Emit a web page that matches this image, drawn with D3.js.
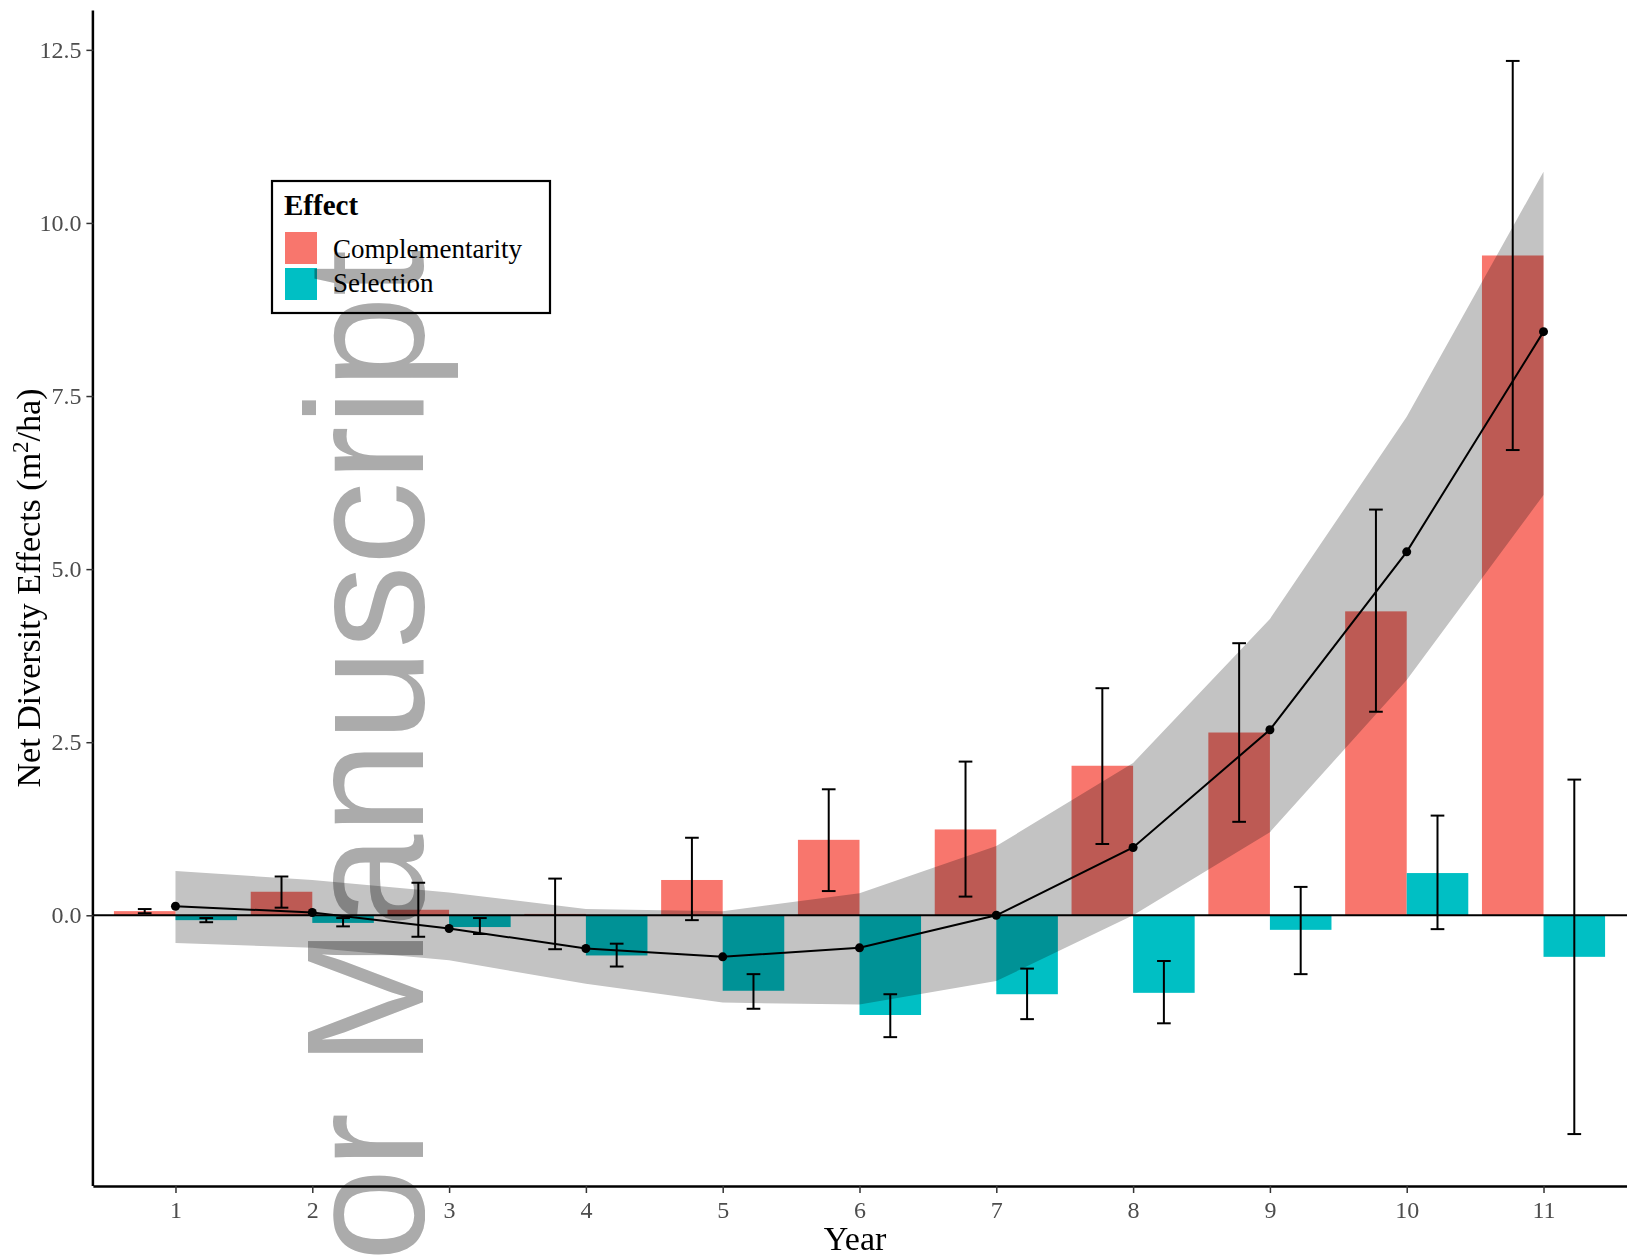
<!DOCTYPE html>
<html>
<head>
<meta charset="utf-8">
<script src="https://cdn.jsdelivr.net/npm/d3@7"></script>
<style>
    body { margin: 0; background: #fff; }
    svg { display: block; }
</style>
</head>
<body>
<script>
const years = [1, 2, 3, 4, 5, 6, 7, 8, 9, 10, 11];
const yTicks = [0, 2.5, 5, 7.5, 10, 12.5];

// Complementarity effect (mean, upper, lower)
const comp = [0.06, 0.34, 0.08, 0.02, 0.51, 1.09, 1.24, 2.16, 2.64, 4.39, 9.53];
const compHi = [0.09, 0.56, 0.47, 0.53, 1.12, 1.82, 2.22, 3.28, 3.93, 5.86, 12.34];
const compLo = [0.03, 0.11, -0.31, -0.49, -0.07, 0.35, 0.27, 1.03, 1.35, 2.94, 6.72];

// Selection effect (mean, upper, lower)
const sel = [-0.07, -0.11, -0.17, -0.58, -1.09, -1.44, -1.14, -1.12, -0.21, 0.61, -0.60];
const selHi = [-0.04, -0.04, -0.04, -0.41, -0.85, -1.14, -0.77, -0.66, 0.41, 1.44, 1.96];
const selLo = [-0.10, -0.16, -0.27, -0.74, -1.35, -1.76, -1.50, -1.56, -0.85, -0.20, -3.16];

// Net effect and its fitted band
const net = [0.13, 0.04, -0.19, -0.48, -0.60, -0.47, 0.0, 0.98, 2.68, 5.25, 8.43];
const bandHi = [0.64, 0.51, 0.33, 0.09, 0.06, 0.32, 1.0, 2.2, 4.28, 7.2, 10.74];
const bandLo = [-0.40, -0.47, -0.65, -0.99, -1.26, -1.29, -0.95, 0.0, 1.2, 3.4, 6.07];

const effects = ["Complementarity", "Selection"];
const colors = ["#F8766D", "#00BFC4"];

const width = 1627, height = 1259;
const plotLeft = 93.4, plotRight = 1625.6, plotTop = 10.4, plotBottom = 1186;
const barW = 0.45;

const x = d3.scaleLinear().domain([0.4, 11.6]).range([plotLeft, plotRight]);
const y = d3.scaleLinear().domain([-3.91, 13.07]).range([plotBottom, plotTop]);

const svg = d3.select("body").append("svg")
    .attr("width", width)
    .attr("height", height);

const rows = years.map((yr, i) => ({
    year: yr, comp: comp[i], compHi: compHi[i], compLo: compLo[i],
    sel: sel[i], selHi: selHi[i], selLo: selLo[i],
    net: net[i], hi: bandHi[i], lo: bandLo[i]
}));

// bars
svg.append("g").selectAll("rect")
    .data(rows)
    .join("rect")
    .attr("x", d => x(d.year - barW))
    .attr("width", d => x(d.year) - x(d.year - barW))
    .attr("y", d => y(Math.max(0, d.comp)))
    .attr("height", d => Math.abs(y(d.comp) - y(0)))
    .attr("fill", colors[0]);

svg.append("g").selectAll("rect")
    .data(rows)
    .join("rect")
    .attr("x", d => x(d.year))
    .attr("width", d => x(d.year + barW) - x(d.year))
    .attr("y", d => y(Math.max(0, d.sel)))
    .attr("height", d => Math.abs(y(d.sel) - y(0)))
    .attr("fill", colors[1]);

// band
svg.append("path")
    .datum(rows)
    .attr("d", d3.area().x(d => x(d.year)).y0(d => y(d.lo)).y1(d => y(d.hi)))
    .attr("fill", "#c3c3c3")
    .style("mix-blend-mode", "multiply");

// zero line
svg.append("line")
    .attr("x1", plotLeft).attr("x2", width)
    .attr("y1", y(0)).attr("y2", y(0))
    .attr("stroke", "#000").attr("stroke-width", 2);

// error bars
const errs = rows.flatMap(d => [
    {cx: d.year - barW / 2, hi: d.compHi, lo: d.compLo},
    {cx: d.year + barW / 2, hi: d.selHi, lo: d.selLo}
]);
const capW = 0.05;
const err = svg.append("g").attr("stroke", "#000").attr("stroke-width", 2);
err.append("g").selectAll("line").data(errs).join("line")
    .attr("x1", d => x(d.cx)).attr("x2", d => x(d.cx))
    .attr("y1", d => y(d.hi)).attr("y2", d => y(d.lo));
err.append("g").selectAll("line").data(errs).join("line")
    .attr("x1", d => x(d.cx - capW)).attr("x2", d => x(d.cx + capW))
    .attr("y1", d => y(d.hi)).attr("y2", d => y(d.hi));
err.append("g").selectAll("line").data(errs).join("line")
    .attr("x1", d => x(d.cx - capW)).attr("x2", d => x(d.cx + capW))
    .attr("y1", d => y(d.lo)).attr("y2", d => y(d.lo));

// net effect line
svg.append("path")
    .datum(rows)
    .attr("d", d3.line().x(d => x(d.year)).y(d => y(d.net)))
    .attr("fill", "none")
    .attr("stroke", "#000")
    .attr("stroke-width", 2);

svg.append("g").selectAll("circle")
    .data(rows)
    .join("circle")
    .attr("cx", d => x(d.year))
    .attr("cy", d => y(d.net))
    .attr("r", 4.5)
    .attr("fill", "#000");

// axes
const xAxis = svg.append("g")
    .attr("transform", `translate(0,${plotBottom})`)
    .call(d3.axisBottom(x).tickValues(years).tickFormat(d3.format("d")).tickSize(7).tickPadding(8));
xAxis.select(".domain").attr("d", `M${plotLeft},0.5H${width}`).attr("stroke-width", 2.5);

const yAxis = svg.append("g")
    .attr("transform", `translate(${plotLeft},0)`)
    .call(d3.axisLeft(y).tickValues(yTicks).tickFormat(d3.format(".1f")).tickSize(7).tickPadding(5));
yAxis.select(".domain").attr("d", `M-0.5,${plotTop}V${plotBottom}`).attr("stroke-width", 2.5);

svg.selectAll(".tick line").attr("stroke", "#333").attr("stroke-width", 1.5);
svg.selectAll(".tick text")
    .attr("fill", "#4d4d4d")
    .style("font-family", "'Liberation Serif', 'Times New Roman', serif")
    .style("font-size", "24px");

svg.append("text")
    .attr("x", 855).attr("y", 1250)
    .attr("text-anchor", "middle")
    .style("font-family", "'Liberation Serif', 'Times New Roman', serif")
    .style("font-size", "34px")
    .text("Year");

const yTitle = svg.append("text")
    .attr("transform", "translate(40,588) rotate(-90)")
    .attr("text-anchor", "middle")
    .style("font-family", "'Liberation Serif', 'Times New Roman', serif")
    .style("font-size", "34px");
yTitle.append("tspan").text("Net Diversity Effects (m");
yTitle.append("tspan").attr("dy", -12).style("font-size", "23px").text("2");
yTitle.append("tspan").attr("dy", 12).text("/ha)");

// legend
const legend = svg.append("g");
legend.append("rect")
    .attr("x", 272).attr("y", 181)
    .attr("width", 278).attr("height", 132)
    .attr("fill", "#fff").attr("stroke", "#000").attr("stroke-width", 2.2);
legend.append("text")
    .attr("x", 284).attr("y", 215)
    .style("font-family", "'Liberation Serif', 'Times New Roman', serif")
    .style("font-size", "29px")
    .style("font-weight", "bold")
    .text("Effect");
legend.append("g").selectAll("rect")
    .data(effects)
    .join("rect")
    .attr("x", 285)
    .attr("y", (d, i) => 232 + i * 36)
    .attr("width", 32).attr("height", 32)
    .attr("fill", (d, i) => colors[i]);
legend.append("g").selectAll("text")
    .data(effects)
    .join("text")
    .attr("x", 333)
    .attr("y", (d, i) => 258 + i * 34)
    .style("font-family", "'Liberation Serif', 'Times New Roman', serif")
    .style("font-size", "27px")
    .text(d => d);

// watermark
svg.append("text")
    .attr("transform", "translate(423,1605) rotate(-90)")
    .style("font-family", "'Liberation Sans', Arial, sans-serif")
    .style("font-size", "167px")
    .attr("fill", "#ababab")
    .style("mix-blend-mode", "multiply")
    .text("Author Manuscript");
</script>
</body>
</html>
